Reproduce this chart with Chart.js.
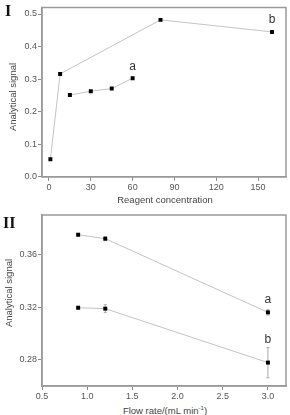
<!DOCTYPE html>
<html><head><meta charset="utf-8">
<script src="https://cdn.jsdelivr.net/npm/chart.js@4/dist/chart.umd.min.js"></script>
<style>
html,body{margin:0;padding:0;background:#fff;}
#wrap{position:relative;width:290px;height:415px;overflow:hidden;font-family:"Liberation Sans",Arial,sans-serif;color:#444;}
.c{position:absolute;left:0;width:290px;height:195px;}
.t{position:absolute;white-space:nowrap;font-size:9.5px;line-height:1;color:#444;}
.ty{transform:translate(-50%,-50%) rotate(-90deg);}
.tx{transform:translate(-50%,-50%);}
.rn{position:absolute;font-family:"Liberation Serif","DejaVu Serif",serif;font-weight:bold;font-size:16px;line-height:1;color:#111;}
</style></head><body>
<div id="wrap">
  <div class="c" style="top:0"><canvas id="c1"></canvas></div>
  <div class="c" style="top:205px"><canvas id="c2"></canvas></div>
  <div class="rn" style="left:5px;top:3px">I</div>
  <div class="rn" style="left:3px;top:215px">II</div>
  <div class="t ty" style="left:13px;top:97px">Analytical signal</div>
  <div class="t tx" style="left:165px;top:200px">Reagent concentration</div>
  <div class="t ty" style="left:9px;top:293px">Analytical signal</div>
  <div class="t tx" style="left:165px;top:410px">Flow rate/(mL min<sup style="font-size:6px;vertical-align:4px">-1</sup>)</div>
</div>
<script>
// ---- data (panel I) ----
const reagentA = [15, 30, 45, 60];
const signalA1 = [0.251, 0.263, 0.271, 0.303];
const reagentB = [1, 8, 80, 160];
const signalB1 = [0.054, 0.316, 0.482, 0.445];
const xTicks1 = [0, 30, 60, 90, 120, 150];
const xLabels1 = ['0', '30', '60', '90', '120', '150'];
const yTicks1 = [0, 0.1, 0.2, 0.3, 0.4, 0.5];
const yLabels1 = ['0.0', '0.1', '0.2', '0.3', '0.4', '0.5'];
// ---- data (panel II) ----
const flowRate = [0.9, 1.2, 3.0];
const signalA2 = [0.375, 0.372, 0.316];
const errA2 = [0.001, 0.0015, 0.002];
const signalB2 = [0.3195, 0.3188, 0.2778];
const errB2 = [0.001, 0.003, 0.0115];
const xTicks2 = [0.5, 1.0, 1.5, 2.0, 2.5, 3.0];
const xLabels2 = ['0.5', '1.0', '1.5', '2.0', '2.5', '3.0'];
const yTicks2 = [0.28, 0.32, 0.36];
const yLabels2 = ['0.28', '0.32', '0.36'];

const FONT = '"Liberation Sans", Arial, sans-serif';

const framePlugin = {
  id: 'frame',
  beforeDatasetsDraw(c) {
    const a = c.chartArea, ctx = c.ctx;
    ctx.save();
    ctx.strokeStyle = '#9a9a9a';
    ctx.lineWidth = 1.5;
    ctx.strokeRect(a.left, a.top, a.right - a.left, a.bottom - a.top);
    ctx.restore();
  }
};

const errPlugin = {
  id: 'errbars',
  beforeDatasetsDraw(c) {
    const ctx = c.ctx, xs = c.scales.x, ys = c.scales.y;
    ctx.save();
    ctx.strokeStyle = '#aaaaaa';
    ctx.lineWidth = 1;
    c.data.datasets.forEach(ds => {
      if (!ds.errorBars) return;
      ds.data.forEach((p, i) => {
        const e = ds.errorBars[i];
        const x = xs.getPixelForValue(p.x);
        const y1 = ys.getPixelForValue(p.y + e), y2 = ys.getPixelForValue(p.y - e);
        ctx.beginPath();
        ctx.moveTo(x, y1); ctx.lineTo(x, y2);
        ctx.moveTo(x - 1.5, y1); ctx.lineTo(x + 1.5, y1);
        ctx.moveTo(x - 1.5, y2); ctx.lineTo(x + 1.5, y2);
        ctx.stroke();
      });
    });
    ctx.restore();
  }
};

const tagPlugin = {
  id: 'tags',
  afterDatasetsDraw(c, args, opts) {
    const ctx = c.ctx;
    ctx.save();
    ctx.fillStyle = '#333';
    ctx.font = '12px ' + FONT;
    ctx.textAlign = 'center';
    ctx.textBaseline = 'middle';
    (opts.items || []).forEach(t => {
      const el = c.getDatasetMeta(t.ds).data[t.idx];
      ctx.fillText(t.text, el.x, el.y + t.dy);
    });
    ctx.restore();
  }
};

function pts(xs, ys) { return xs.map((x, i) => ({ x: x, y: ys[i] })); }

function ds(data, err) {
  const d = {
    data: data, showLine: true,
    borderColor: '#c4c4c4', borderWidth: 1,
    pointStyle: 'rect', pointRadius: 2.8, pointBorderWidth: 0,
    pointBackgroundColor: '#000', pointBorderColor: '#000'
  };
  if (err) d.errorBars = err;
  return d;
}

function opts(o) {
  const tickFont = { family: FONT, size: 9 };
  return {
    responsive: true, maintainAspectRatio: false, animation: false,
    layout: { padding: { top: o.padTop, right: o.padRight, left: 0, bottom: 0 } },
    plugins: { legend: { display: false }, tooltip: { enabled: false }, tags: { items: o.tags } },
    scales: {
      x: {
        type: 'linear', min: o.xMin, max: o.xMax,
        afterBuildTicks: s => { s.ticks = o.xTicks.map(v => ({ value: v })); },
        afterFit: s => { s.height = o.xH; },
        ticks: { callback: (v, i) => o.xLabels[i], font: tickFont, color: '#555', padding: 1, maxRotation: 0, autoSkip: false },
        grid: { drawOnChartArea: false, tickLength: 4, color: '#8a8a8a' },
        border: { color: '#9a9a9a', width: 1.5 }
      },
      y: {
        type: 'linear', min: o.yMin, max: o.yMax,
        afterBuildTicks: s => { s.ticks = o.yTicks.map(v => ({ value: v })); },
        afterFit: s => { s.width = 42; },
        ticks: { callback: (v, i) => o.yLabels[i], font: tickFont, color: '#555', padding: 1, autoSkip: false },
        grid: { drawOnChartArea: false, tickLength: 4, color: '#8a8a8a' },
        border: { color: '#9a9a9a', width: 1.5 }
      }
    }
  };
}

new Chart(document.getElementById('c1'), {
  type: 'scatter',
  data: { datasets: [ds(pts(reagentB, signalB1)), ds(pts(reagentA, signalA1))] },
  options: opts({
    padTop: 7.5, padRight: 1.5, xH: 18.2,
    xMin: -5, xMax: 170, yMin: 0, yMax: 0.52,
    xTicks: xTicks1, xLabels: xLabels1, yTicks: yTicks1, yLabels: yLabels1,
    tags: [{ ds: 1, idx: 3, text: 'a', dy: -11 }, { ds: 0, idx: 3, text: 'b', dy: -12 }]
  }),
  plugins: [framePlugin, errPlugin, tagPlugin]
});

new Chart(document.getElementById('c2'), {
  type: 'scatter',
  data: { datasets: [ds(pts(flowRate, signalA2), errA2), ds(pts(flowRate, signalB2), errB2)] },
  options: opts({
    padTop: 10, padRight: 2.7, xH: 14,
    xMin: 0.5, xMax: 3.2, yMin: 0.26, yMax: 0.39,
    xTicks: xTicks2, xLabels: xLabels2, yTicks: yTicks2, yLabels: yLabels2,
    tags: [{ ds: 0, idx: 2, text: 'a', dy: -12.5 }, { ds: 1, idx: 2, text: 'b', dy: -23 }]
  }),
  plugins: [framePlugin, errPlugin, tagPlugin]
});
</script>
</body></html>
